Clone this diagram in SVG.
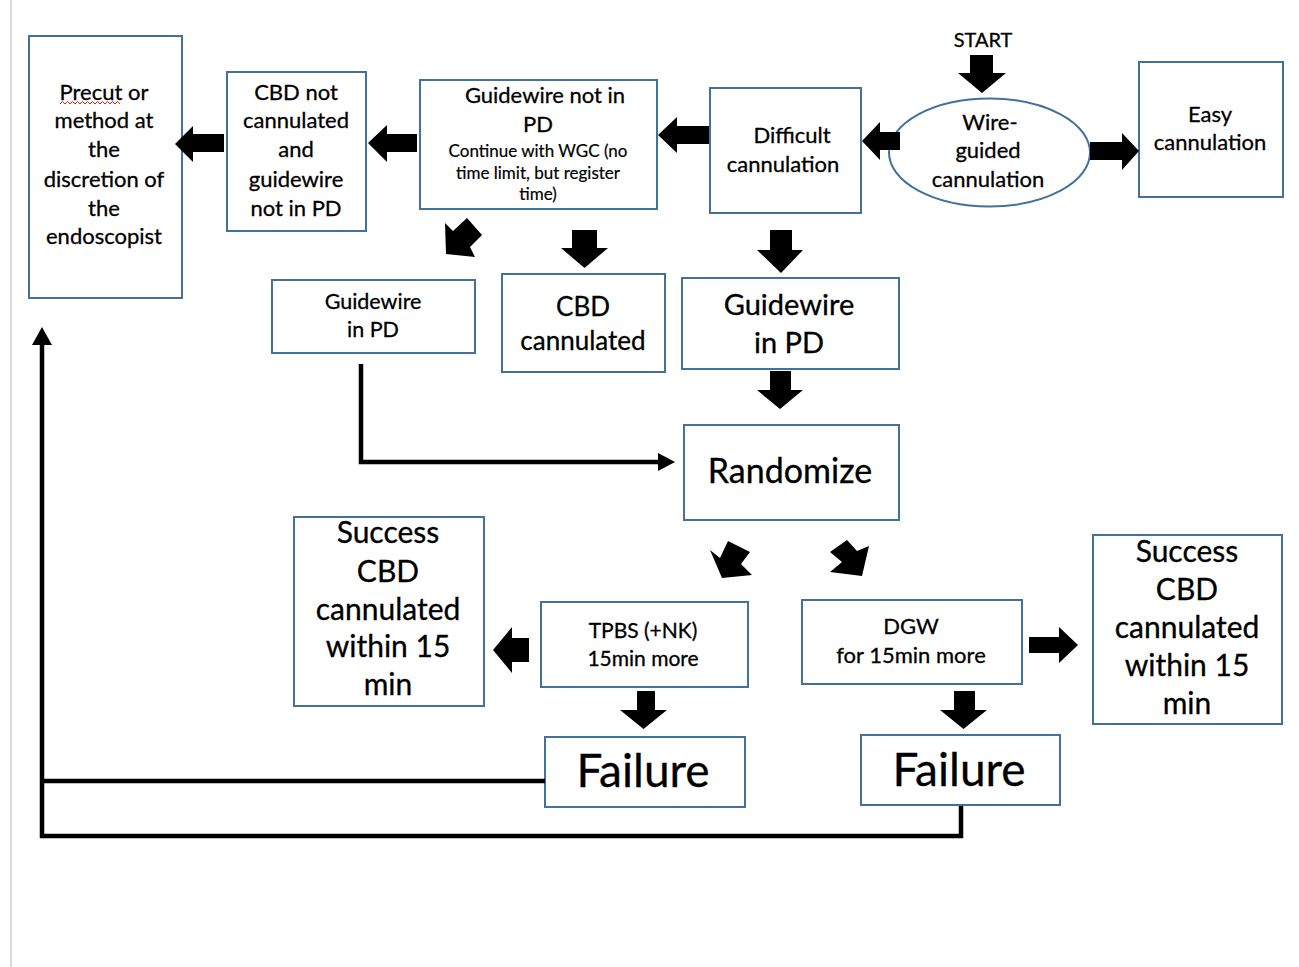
<svg xmlns="http://www.w3.org/2000/svg" width="1299" height="967" viewBox="0 0 1299 967">
<style>
.box{fill:#fff;stroke:#41719c;stroke-width:2}
.t{font-family:Lato,"Open Sans",sans-serif;fill:#000;text-anchor:middle;stroke:#000;stroke-width:0.3}
.f22{font-size:22px}
.blk{fill:#000;stroke:none}
.ln{fill:none;stroke:#000;stroke-width:4.5}
</style>
<rect width="1299" height="967" fill="#fff"/>
<line x1="11" y1="0" x2="11" y2="967" stroke="#d9d9d9" stroke-width="2"/>

<g id="start">
<text class="t" x="983" y="47" font-size="20">START</text>
</g>

<g id="precut">
<rect class="box" x="29" y="36" width="153" height="262"/>
<text class="t f22" x="104"><tspan x="104" y="100">Precut or</tspan><tspan x="104" y="128">method at</tspan><tspan x="104" y="157">the</tspan><tspan x="104" y="187">discretion of</tspan><tspan x="104" y="216">the</tspan><tspan x="104" y="244">endoscopist</tspan></text>
<path d="M60,104 l2.5,-2.5 l2.5,2.5 l2.5,-2.5 l2.5,2.5 l2.5,-2.5 l2.5,2.5 l2.5,-2.5 l2.5,2.5 l2.5,-2.5 l2.5,2.5 l2.5,-2.5 l2.5,2.5 l2.5,-2.5 l2.5,2.5 l2.5,-2.5 l2.5,2.5 l2.5,-2.5 l2.5,2.5 l2.5,-2.5 l2.5,2.5 l2.5,-2.5 l2.5,2.5 l2.5,-2.5 l2.5,2.5" fill="none" stroke="#e02020" stroke-width="1"/>
</g>

<g id="cbd-not">
<rect class="box" x="227" y="72" width="139" height="159"/>
<text class="t f22"><tspan x="296" y="100">CBD not</tspan><tspan x="296" y="128">cannulated</tspan><tspan x="296" y="157">and</tspan><tspan x="296" y="187">guidewire</tspan><tspan x="296" y="216">not in PD</tspan></text>
</g>

<g id="gw-not">
<rect class="box" x="420" y="80" width="237" height="129"/>
<text class="t f22"><tspan x="545" y="103">Guidewire not in</tspan><tspan x="538" y="132">PD</tspan></text>
<text class="t" font-size="17" style="stroke-width:0.2"><tspan x="538" y="157">Continue with WGC (no</tspan><tspan x="538" y="179">time limit, but register</tspan><tspan x="538" y="200">time)</tspan></text>
</g>

<g id="difficult">
<rect class="box" x="710" y="88" width="151" height="125"/>
<text class="t f22"><tspan x="792" y="143">Difficult</tspan><tspan x="783" y="172">cannulation</tspan></text>
</g>

<g id="wire-guided">
<ellipse cx="989.5" cy="152.5" rx="100.5" ry="54" fill="#fff" stroke="#41719c" stroke-width="2"/>
<text class="t f22"><tspan x="990" y="130">Wire-</tspan><tspan x="988" y="158">guided</tspan><tspan x="988" y="187">cannulation</tspan></text>
</g>

<g id="easy">
<rect class="box" x="1139" y="62" width="144" height="135"/>
<text class="t f22"><tspan x="1210" y="122">Easy</tspan><tspan x="1210" y="150">cannulation</tspan></text>
</g>

<g id="gw-in-pd-small">
<rect class="box" x="272" y="280" width="203" height="73"/>
<text class="t" font-size="21.5"><tspan x="373" y="309">Guidewire</tspan><tspan x="373" y="337">in PD</tspan></text>
</g>

<g id="cbd-cannulated">
<rect class="box" x="502" y="274" width="163" height="98"/>
<text class="t" font-size="26"><tspan x="583" y="316">CBD</tspan><tspan x="583" y="350">cannulated</tspan></text>
</g>

<g id="gw-in-pd-large">
<rect class="box" x="682" y="278" width="217" height="91"/>
<text class="t" font-size="29"><tspan x="789" y="315">Guidewire</tspan><tspan x="789" y="353">in PD</tspan></text>
</g>

<g id="randomize">
<rect class="box" x="684" y="425" width="215" height="95"/>
<text class="t" x="790" y="483" font-size="34">Randomize</text>
</g>

<g id="success-left">
<rect class="box" x="294" y="517" width="190" height="189"/>
<text class="t" font-size="30"><tspan x="388" y="543">Success</tspan><tspan x="388" y="582">CBD</tspan><tspan x="388" y="620">cannulated</tspan><tspan x="388" y="657">within 15</tspan><tspan x="388" y="695">min</tspan></text>
</g>

<g id="tpbs">
<rect class="box" x="541" y="602" width="207" height="85"/>
<text class="t" font-size="21"><tspan x="643" y="638">TPBS (+NK)</tspan><tspan x="643" y="666">15min more</tspan></text>
</g>

<g id="dgw">
<rect class="box" x="802" y="600" width="220" height="84"/>
<text class="t" font-size="22"><tspan x="911" y="634">DGW</tspan><tspan x="911" y="663">for 15min more</tspan></text>
</g>

<g id="success-right">
<rect class="box" x="1093" y="535" width="189" height="189"/>
<text class="t" font-size="30"><tspan x="1187" y="562">Success</tspan><tspan x="1187" y="600">CBD</tspan><tspan x="1187" y="638">cannulated</tspan><tspan x="1187" y="676">within 15</tspan><tspan x="1187" y="714">min</tspan></text>
</g>

<g id="failure-left">
<rect class="box" x="545" y="737" width="200" height="70"/>
<text class="t" x="643" y="787" font-size="46">Failure</text>
</g>

<g id="failure-right">
<rect class="box" x="861" y="735" width="199" height="70"/>
<text class="t" x="959" y="786" font-size="46">Failure</text>
</g>

<g id="connectors">
<path class="ln" d="M361,364 V462 H660"/>
<polygon class="blk" points="658,453 675,462 658,471"/>
<path class="ln" d="M545,781 H42"/>
<path class="ln" d="M961,806 V836 H42 V343"/>
<polygon class="blk" points="32,345 42,327 52,345"/>
<polygon class="blk" points="970,55 993,55 993,73 1006,73 982,93 958,73 970,73"/>
<polygon class="blk" points="900,132 900,150 880,150 880,160 862,141 880,122 880,132"/>
<polygon class="blk" points="1090,142 1122,142 1122,133 1139,151 1122,170 1122,160 1090,160"/>
<polygon class="blk" points="709,126 709,144 677,144 677,153 658,135 677,117 677,126"/>
<polygon class="blk" points="417,134 417,152 387,152 387,162 368,143 387,125 387,134"/>
<polygon class="blk" points="224,134 224,152 193,152 193,162 175,144 193,126 193,134"/>
<polygon class="blk" points="572,230 597,230 597,248 608,248 584.5,268 561,248 572,248"/>
<polygon class="blk" points="770,230 792,230 792,250 803,250 781,273 757,250 770,250"/>
<polygon class="blk" points="770,371 791,371 791,390 803,390 780,409 757,390 770,390"/>
<polygon class="blk" points="529,638 529,662 512,662 512,673 493,650 512,627 512,638"/>
<polygon class="blk" points="637,691 655,691 655,710 667,710 643.5,729 620,710 637,710"/>
<polygon class="blk" points="954,691 975,691 975,710 987,710 963.5,729 940,710 954,710"/>
<polygon class="blk" points="1029,637 1059,637 1059,627 1078,645 1059,663 1059,653 1029,653"/>
<polygon class="blk" points="445,223 453,231 467,218 482,235 470,247 475,257 446,254"/>
<polygon class="blk" points="710,550 720,558 728,541 750,552 741,564 752,575 722,578"/>
<polygon class="blk" points="830,552 847,540 857,551 869,546 862,576 830,572 842,562"/>
</g>
</svg>
